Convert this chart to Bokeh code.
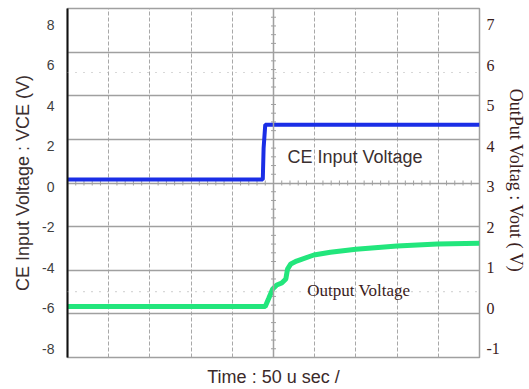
import numpy as np
from bokeh.plotting import figure
from bokeh.models import Range1d, LinearAxis, FixedTicker, Span, Label
from bokeh.embed import file_html
from bokeh.resources import INLINE

# ---- data ----
time_ce_us = [0, 237, 238, 240, 500]
vce = [0.35, 0.35, 1.9, 3.05, 3.05]

time_out_us = [0, 240, 244, 249, 254, 260, 265, 267, 271, 278, 299, 319, 350, 400, 449, 500]
vout = [0.04, 0.04, 0.23, 0.47, 0.57, 0.62, 0.72, 0.96, 1.09, 1.16, 1.31, 1.38, 1.45, 1.53, 1.58, 1.60]

left_ticks = [8, 6, 4, 2, 0, -2, -4, -6, -8]
right_ticks = [7, 6, 5, 4, 3, 2, 1, 0, -1]
ref_levels_left = [5.63, -5.19]

# ---- ranges ----
X0, X1 = 0, 500
Y0, Y1 = -8.44, 8.79
R0, R1 = (Y0 + 6) / 2, (Y1 + 6) / 2

p = figure(width=529, height=389, x_range=Range1d(X0, X1), y_range=Range1d(Y0, Y1),
           output_backend="svg", toolbar_location=None,
           min_border_left=67, min_border_right=50, min_border_top=8, min_border_bottom=32)
p.extra_y_ranges = {"right": Range1d(R0, R1)}
p.background_fill_color = "white"
p.border_fill_color = "white"
p.outline_line_color = "#a0a0a0"
p.outline_line_width = 1.5

# grid: 10 dashed vertical divisions, 8 solid horizontal divisions
p.xgrid.ticker = FixedTicker(ticks=list(np.arange(X0 + 50, X1, 50)))
p.xgrid.grid_line_color = "#a8a8a8"
p.xgrid.grid_line_dash = "4 2"
p.xgrid.grid_line_width = 1
ystep = (Y1 - Y0) / 8
p.ygrid.ticker = FixedTicker(ticks=[Y0 + k * ystep for k in range(1, 8)])
p.ygrid.grid_line_color = "#a0a0a0"
p.ygrid.grid_line_width = 1.5

# centre vertical line solid
p.add_layout(Span(location=(X0 + X1) / 2, dimension="height", line_color="#a0a0a0", line_width=1.5))
# dotted reference levels
for lv in ref_levels_left:
    p.add_layout(Span(location=lv, dimension="width", line_color="#b0b0b0", line_dash="1 7", line_width=1.2))

# minor ticks on centre lines
yc = Y0 + 4 * ystep
tx = [t for t in np.arange(X0 + 10, X1, 10) if t % 50 != 0]
p.scatter(tx, [yc] * len(tx), marker="dash", angle=np.pi / 2, size=5, line_color="#a0a0a0", line_width=1)
ty = [Y0 + k * ystep / 5 for k in range(1, 40) if k % 5 != 0]
p.scatter([(X0 + X1) / 2] * len(ty), ty, marker="dash", size=5, line_color="#a0a0a0", line_width=1)

# traces
p.line(time_ce_us, vce, line_color="#1a2ee6", line_width=4)
p.line(time_out_us, vout, line_color="#22e67c", line_width=5, y_range_name="right")

# in-plot labels
p.add_layout(Label(x=267, y=1.48, text="CE Input Voltage", text_baseline="middle",
                   text_font="Liberation Sans", text_font_size="18px", text_color="#3b2f2f"))
p.add_layout(Label(x=291, y=-5.14, text="Output Voltage", text_baseline="middle",
                   text_font="Liberation Serif", text_font_size="17px", text_color="#3a1c1c"))

# x axis: title only
xa = p.xaxis[0]
xa.ticker = FixedTicker(ticks=[])
xa.axis_line_color = None
xa.major_tick_line_color = None
xa.minor_tick_line_color = None
xa.major_tick_out = 0
xa.minor_tick_out = 0
xa.major_label_standoff = 0
xa.axis_label = "Time : 50 u sec /"
xa.axis_label_text_font = "Liberation Sans"
xa.axis_label_text_font_size = "18px"
xa.axis_label_text_font_style = "normal"
xa.axis_label_text_color = "#3b2a2a"
xa.axis_label_standoff = 9

# left axis
ya = p.yaxis[0]
ya.ticker = FixedTicker(ticks=left_ticks)
ya.major_label_overrides = {v: str(v) for v in left_ticks}
ya.axis_line_color = "#111111"
ya.axis_line_width = 2
ya.major_tick_line_color = None
ya.minor_tick_line_color = None
ya.major_tick_out = 0
ya.minor_tick_out = 0
ya.major_label_standoff = 13
ya.major_label_text_font = "Liberation Sans"
ya.major_label_text_font_size = "14px"
ya.major_label_text_color = "#404040"
ya.axis_label = "CE Input Voltage : VCE (V)"
ya.axis_label_text_font = "Liberation Sans"
ya.axis_label_text_font_size = "18px"
ya.axis_label_text_font_style = "normal"
ya.axis_label_text_color = "#3b2f2f"
ya.axis_label_standoff = 6

# right axis
ra = LinearAxis(y_range_name="right", ticker=FixedTicker(ticks=right_ticks))
ra.major_label_overrides = {v: str(v) for v in right_ticks}
ra.axis_line_color = None
ra.major_tick_line_color = None
ra.minor_tick_line_color = None
ra.major_tick_out = 0
ra.minor_tick_out = 0
ra.major_label_standoff = 7
ra.major_label_text_font = "Liberation Serif"
ra.major_label_text_font_size = "16px"
ra.major_label_text_color = "#3a2020"
ra.axis_label = "OutPut Voltag  : Vout ( V)"
ra.axis_label_text_font = "Liberation Serif"
ra.axis_label_text_font_size = "18px"
ra.axis_label_text_font_style = "normal"
ra.axis_label_text_color = "#3a2020"
ra.axis_label_standoff = 3
p.add_layout(ra, "right")

open("out.html", "w").write(file_html(p, INLINE))
